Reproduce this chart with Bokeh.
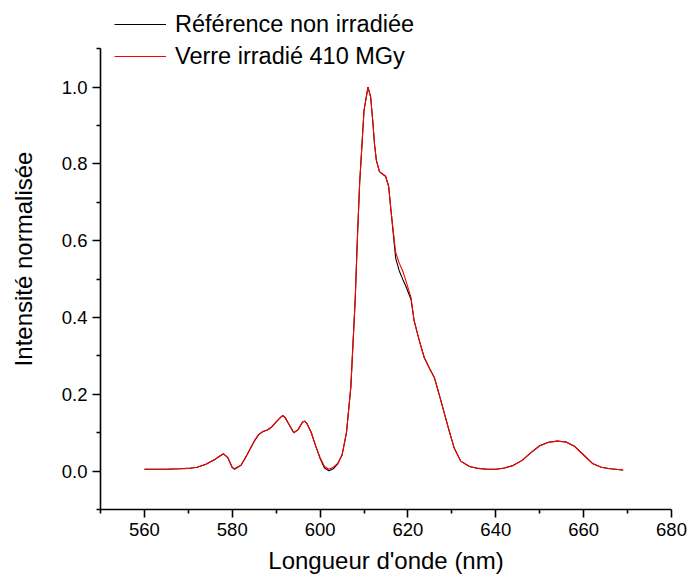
from bokeh.plotting import figure
from bokeh.models import Range1d, FixedTicker, PrintfTickFormatter, Legend, LegendItem
from bokeh.embed import file_html
from bokeh.resources import INLINE

wavelength = [560, 562, 565, 568, 570, 572, 574, 576, 577, 578, 579, 580, 580.5, 582, 583, 584,
              585, 586, 587, 588, 589, 590, 591, 591.5, 592, 593, 594, 595, 596, 596.5, 597,
              598, 599, 600, 601, 602, 603, 604, 605, 606, 607, 608, 608.5, 609, 609.5, 610,
              610.9, 611.5, 612, 612.4, 612.8, 613.5, 614.2, 614.9, 615.6, 616.1, 616.6, 617.2,
              618, 618.8, 619.5, 620.7, 621.4, 622.6, 623.7, 624.8, 626, 627.1, 628.3, 629.4,
              630.5, 632, 634, 636, 638, 640, 642, 644, 646, 648, 650, 652, 654, 656, 658, 660,
              662, 664, 666, 669]

irradiated = [0.005, 0.005, 0.005, 0.006, 0.007, 0.010, 0.018, 0.030, 0.038, 0.045, 0.035, 0.010,
              0.006, 0.016, 0.035, 0.056, 0.078, 0.095, 0.103, 0.107, 0.115, 0.128, 0.140, 0.145,
              0.140, 0.120, 0.100, 0.108, 0.128, 0.130, 0.124, 0.100, 0.065, 0.035, 0.012, 0.005,
              0.010, 0.020, 0.042, 0.100, 0.220, 0.450, 0.610, 0.750, 0.845, 0.940,
              1.000, 0.975, 0.910, 0.850, 0.810, 0.780, 0.774, 0.768, 0.742, 0.683, 0.630, 0.570,
              0.542, 0.522, 0.497, 0.452, 0.392, 0.339, 0.296, 0.270, 0.244, 0.200, 0.150, 0.104,
              0.061, 0.026, 0.012, 0.007, 0.005, 0.005, 0.008, 0.015, 0.028, 0.048, 0.066, 0.075,
              0.078, 0.076, 0.064, 0.042, 0.020, 0.010, 0.006, 0.003]

reference = [0.005, 0.005, 0.005, 0.006, 0.007, 0.010, 0.018, 0.030, 0.038, 0.045, 0.035, 0.009,
             0.005, 0.015, 0.035, 0.056, 0.078, 0.095, 0.103, 0.107, 0.115, 0.128, 0.140, 0.145,
             0.140, 0.120, 0.100, 0.108, 0.128, 0.130, 0.124, 0.100, 0.065, 0.033, 0.008, 0.001,
             0.006, 0.019, 0.042, 0.100, 0.220, 0.450, 0.610, 0.750, 0.845, 0.940,
             1.000, 0.975, 0.910, 0.850, 0.810, 0.780, 0.774, 0.768, 0.742, 0.683, 0.625, 0.555,
             0.522, 0.500, 0.482, 0.447, 0.392, 0.339, 0.296, 0.270, 0.244, 0.200, 0.150, 0.104,
             0.061, 0.026, 0.012, 0.007, 0.005, 0.005, 0.008, 0.015, 0.028, 0.048, 0.066, 0.075,
             0.078, 0.076, 0.064, 0.042, 0.020, 0.010, 0.006, 0.003]

x_ticks = [560, 580, 600, 620, 640, 660, 680]
x_minor_ticks = [550, 570, 590, 610, 630, 650, 670]
y_ticks = [0.0, 0.2, 0.4, 0.6, 0.8, 1.0]
y_minor_ticks = [-0.1, 0.1, 0.3, 0.5, 0.7, 0.9, 1.1]
series_labels = ["Référence non irradiée", "Verre irradié 410 MGy"]
x_title = "Longueur d'onde (nm)"
y_title = "Intensité normalisée"

FONT = "Liberation Sans"

p = figure(width=689, height=579, output_backend="svg", toolbar_location=None,
           x_range=Range1d(550, 680), y_range=Range1d(-0.1, 1.205),
           min_border_left=100, min_border_right=18, min_border_top=8, min_border_bottom=70)
p.outline_line_color = None
p.xgrid.visible = False
p.ygrid.visible = False
p.background_fill_color = "white"
p.border_fill_color = "white"

r_ref = p.line(wavelength, reference, line_color="black", line_width=1.1)
r_irr = p.line(wavelength, irradiated, line_color="#ff0000", line_width=1.1)

for ax in (p.xaxis[0], p.yaxis[0]):
    ax.axis_line_width = 1.6
    ax.axis_line_color = "black"
    ax.major_tick_line_width = 1.6
    ax.minor_tick_line_width = 1.6
    ax.major_tick_line_color = "black"
    ax.minor_tick_line_color = "black"
    ax.major_tick_in = 0
    ax.major_tick_out = 8
    ax.minor_tick_in = 0
    ax.minor_tick_out = 4
    ax.major_label_text_font = FONT
    ax.major_label_text_font_size = "18.5px"
    ax.major_label_text_color = "black"
    ax.axis_label_text_font = FONT
    ax.axis_label_text_font_size = "24px"
    ax.axis_label_text_font_style = "normal"
    ax.axis_label_text_color = "black"

p.xaxis[0].ticker = FixedTicker(ticks=x_ticks, minor_ticks=x_minor_ticks)
p.yaxis[0].ticker = FixedTicker(ticks=y_ticks, minor_ticks=y_minor_ticks)
p.yaxis[0].formatter = PrintfTickFormatter(format="%.1f")
p.yaxis[0].bounds = (-0.1, 1.1)
p.xaxis[0].axis_label = x_title
p.yaxis[0].axis_label = y_title
p.xaxis[0].major_label_standoff = 5
p.xaxis[0].axis_label_standoff = 8
p.yaxis[0].major_label_standoff = 5
p.yaxis[0].axis_label_standoff = 22

legend = Legend(items=[LegendItem(label=series_labels[0], renderers=[r_ref]),
                       LegendItem(label=series_labels[1], renderers=[r_irr])],
                location=(14, 439))
legend.label_text_font = FONT
legend.label_text_font_size = "23.5px"
legend.label_text_color = "black"
legend.glyph_width = 52
legend.glyph_height = 28
legend.label_height = 28
legend.label_standoff = 9
legend.spacing = 4
legend.padding = 0
legend.margin = 0
legend.border_line_color = None
legend.background_fill_alpha = 0
p.add_layout(legend)

open("out.html", "w").write(file_html(p, INLINE))
